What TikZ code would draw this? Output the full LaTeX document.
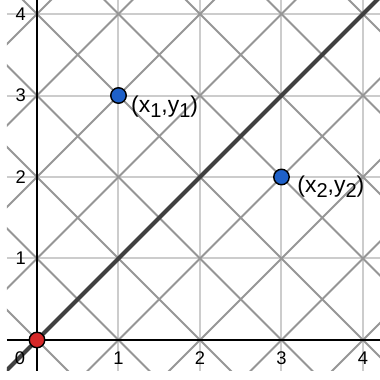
\documentclass[tikz,border=0pt]{standalone}
\usepackage{fontspec}
\setmainfont{Liberation Sans}
\usetikzlibrary{positioning}
\definecolor{gridgray}{RGB}{204,204,204}
\definecolor{diaggray}{RGB}{150,150,150}
\definecolor{linegray}{RGB}{64,64,64}
\definecolor{ptblue}{RGB}{30,96,200}
\definecolor{ptred}{RGB}{214,40,40}
\tikzset{
  gridline/.style = {draw=gridgray, line width=0.7pt},
  diagline/.style = {draw=diaggray, line width=0.7pt},
  mainline/.style = {draw=linegray, line width=1.4pt},
  axisline/.style = {draw=black, line width=0.6pt},
  dot/.style      = {circle, draw=black, line width=0.5pt, inner sep=0pt,
                     minimum size=0.19cm},
  ticklab/.style  = {font=\fontsize{6.4}{7}\selectfont, inner sep=0pt},
  ptlab/.style    = {font=\fontsize{8}{9}\selectfont, inner sep=1pt},
}
\newcommand{\lo}[1]{\raisebox{-0.45ex}{\fontsize{7}{8}\selectfont #1}}

\begin{document}
\begin{tikzpicture}[x=1cm, y=1cm]
  \useasboundingbox (-0.454,-0.479) rectangle (4.209,4.172);
  \coordinate (ll) at (-0.37,-0.38);
  \coordinate (ur) at (4.21,4.18);

  \begin{scope}
    \clip (ll) rectangle (ur);
    \draw[gridline] (ll) grid (ur);
    \foreach \k in {-1,...,9}
      \draw[diagline] (\k+1,-1) -- (\k-5,5);
    \foreach \k in {-5,...,5}
      \draw[diagline] (-1,-1-\k) -- (5,5-\k);
    \draw[mainline] (-1,-1) -- (5,5);
  \end{scope}

  \draw[axisline] (-0.37,0) -- (4.21,0);
  \draw[axisline] (0,-0.38) -- (0,4.18);

  \node[ticklab] (x0) at (-0.21,-0.22) {0};
  \foreach \i in {1,2,3,4} {
    \node[ticklab] (x\i) at (\i,-0.22) {\i};
    \node[ticklab] (y\i) at (-0.2,\i) {\i};
  }

  \node[dot, fill=ptred]  (O)  at (0,0) {};
  \node[dot, fill=ptblue] (p1) at (1,3) {};
  \node[dot, fill=ptblue] (p2) at (3,2) {};

  \node[ptlab, right=0.01cm of p1, yshift=-0.14cm] (l1) {(x\lo{1},y\lo{1})};
  \node[ptlab, right=0.05cm of p2, yshift=-0.12cm] (l2) {(x\lo{2},y\lo{2})};
\end{tikzpicture}
\end{document}
